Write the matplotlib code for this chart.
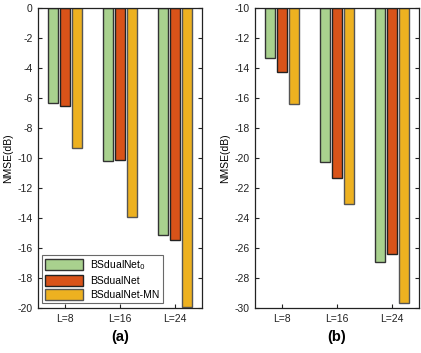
import matplotlib
matplotlib.use("Agg")
import matplotlib.pyplot as plt
import numpy as np

plt.rcParams['font.family'] = ['Liberation Sans', 'DejaVu Sans']

categories = ["L=8", "L=16", "L=24"]
series_names = ["BSdualNet$_0$", "BSdualNet", "BSdualNet-MN"]
vals_a = {
    "BSdualNet$_0$": [-6.33, -10.2, -15.13],
    "BSdualNet": [-6.5, -10.1, -15.47],
    "BSdualNet-MN": [-9.33, -13.93, -19.9],
}
vals_b = {
    "BSdualNet$_0$": [-13.3, -20.27, -26.93],
    "BSdualNet": [-14.27, -21.33, -26.4],
    "BSdualNet-MN": [-16.4, -23.07, -29.67],
}
colors = ["#A9D18E", "#D95319", "#EDB120"]
edges = ["#333333", "#222222", "#555555"]

W, H = 421, 353
fig = plt.figure(figsize=(W/100, H/100), dpi=100)

def make_ax(left, right, vals, base, ylo, yticks, label):
    ax = fig.add_axes([left/W, 1-308/H, (right-left)/W, 300/H])
    x = np.arange(1, len(categories)+1)
    offs = [-0.22, 0.0, 0.22]
    for i, name in enumerate(series_names):
        v = np.array(vals[name])
        ax.bar(x+offs[i], v-base, bottom=base, width=0.18, color=colors[i],
               edgecolor=edges[i], linewidth=1.0, label=name, zorder=2)
    ax.set_xlim(0.5, 3.5)
    ax.set_ylim(ylo, base)
    ax.set_xticks(x)
    ax.set_xticklabels(categories, fontsize=7.5)
    ax.set_yticks(yticks)
    ax.set_yticklabels([str(t) for t in yticks], fontsize=7.5)
    ax.tick_params(direction='in', length=3, width=0.8, right=True, top=False,
                   colors='#222222', pad=4)
    ax.set_ylabel("NMSE(dB)", fontsize=7.5, labelpad=3)
    for s in ax.spines.values():
        s.set_linewidth(0.9)
        s.set_color('#222222')
    ax.text(0.5, -0.075, label, transform=ax.transAxes, ha='center', va='top',
            fontsize=10.5, fontweight='bold')
    return ax

ax1 = make_ax(38, 202, vals_a, 0, -20, list(range(0, -21, -2)), "(a)")
ax2 = make_ax(255, 419, vals_b, -10, -30, list(range(-10, -31, -2)), "(b)")

leg = ax1.legend(loc='lower left', bbox_to_anchor=(4/164, 5/300), borderaxespad=0,
                 fontsize=7.5, frameon=True, fancybox=False, edgecolor='#444444',
                 handlelength=3.6, handleheight=1.2, borderpad=0.3,
                 labelspacing=0.3, handletextpad=0.75)
leg.get_frame().set_linewidth(0.8)

fig.savefig("out.png", dpi=100)
